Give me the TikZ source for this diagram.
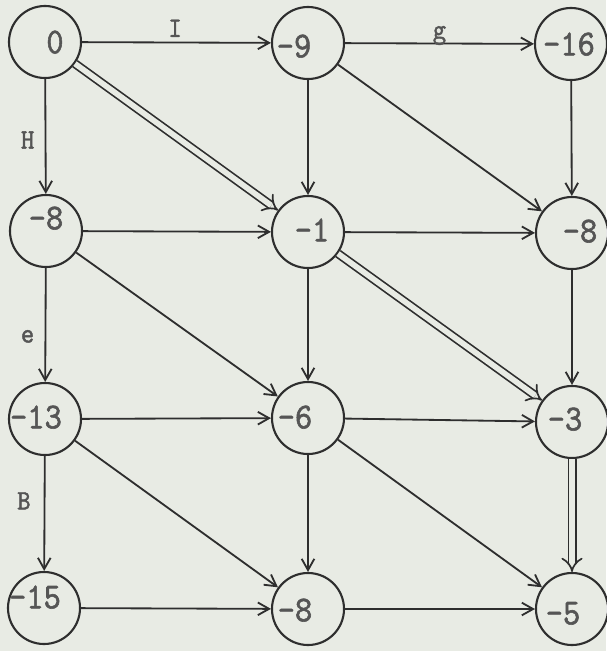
\documentclass[tikz,border=0pt]{standalone}
\usepackage{fontspec}
\usepackage{tikz}
\usetikzlibrary{arrows.meta}
\newfontfamily\typefont[FakeStretch=0.9, FakeBold=1.5]{lmmono10-regular.otf}
\definecolor{paper}{HTML}{E8EBE4}
\definecolor{ink}{HTML}{2E2E2E}
\definecolor{typegray}{HTML}{555555}
% -- one pixel of the sheet, and typed text set off the circle's centre
\newdimen\vpx \vpx=0.025cm
\newcommand\vt[3]{\makebox[0pt]{\kern\dimexpr2\vpx*#1\relax
  \raisebox{\dimexpr\vpx*#2-0.31em\relax}[0pt][0pt]{#3}}}

\begin{document}
\begin{tikzpicture}[
  x=0.025cm, y=-0.025cm,
  >={Straight Barb[length=8pt,width=9pt]},
  vertex/.style={draw=ink, circle, minimum size=1.8cm, inner sep=0pt, line width=1.5pt,
    font=\typefont\fontsize{26}{28}\selectfont, text=typegray},
  edge/.style={->, draw=ink, line width=1.3pt},
  best/.style={draw=ink, double=paper, double distance=4pt, line width=1.2pt, -{Implies[scale=2]}},
  lbl/.style={font=\typefont\fontsize{20}{22}\selectfont, text=typegray}
]
% -- paper background, fixes the page size
\fill[paper] (0,0) rectangle (606,651);
\useasboundingbox (0,0) rectangle (606,651);

% -- Grid of vertices, three columns, four rows.
\node[vertex] (v11) at (45,42)   {\vt{10}{0}{0}};
\node[vertex] (v12) at (308,43)  {\vt{-14}{-3}{-9}};
\node[vertex] (v13) at (571,44)  {\vt{-2}{0}{-16}};
\node[vertex] (v21) at (46,231)  {\vt{0}{13}{-8}};
\node[vertex] (v22) at (308,232) {\vt{4}{2}{-1}};
\node[vertex] (v23) at (572,233) {\vt{8}{2}{-8}};
\node[vertex] (v31) at (45,419)  {\vt{-9}{2}{-13}};
\node[vertex] (v32) at (308,418) {\vt{-13}{1}{-6}};
\node[vertex] (v33) at (572,422) {\vt{-7}{3}{-3}};
\node[vertex] (v41) at (44,608)  {\vt{-9}{11}{-15}};
\node[vertex] (v42) at (308,609) {\vt{-13}{-1}{-8}};
\node[vertex] (v43) at (572,609) {\vt{-9}{-4}{-5}};

% -- Horizontal arcs.
\draw[edge] (v11) -- node[lbl,above=0pt,xshift=-1pt]{I} (v12);
\draw[edge] (v12) -- node[lbl,above=-5pt]{g} (v13);
\draw[edge] (v21) -- (v22);
\draw[edge] (v22) -- (v23);
\draw[edge] (v31) -- (v32);
\draw[edge] (v32) -- (v33);
\draw[edge] (v41) -- (v42);
\draw[edge] (v42) -- (v43);

% -- Vertical arcs.
\draw[edge] (v11) -- node[lbl,left=4pt,pos=0.53]{H} (v21);
\draw[edge] (v21) -- node[lbl,left=4pt,pos=0.6]{e} (v31);
\draw[edge] (v31) -- node[lbl,left=6pt,pos=0.39]{B} (v41);
\draw[edge] (v12) -- (v22);
\draw[edge] (v22) -- (v32);
\draw[edge] (v32) -- (v42);
\draw[edge] (v13) -- (v23);
\draw[edge] (v23) -- (v33);

% -- Diagonal arcs.
\draw[edge] (v12) -- (v23);
\draw[edge] (v21) -- (v32);
\draw[edge] (v31) -- (v42);
\draw[edge] (v32) -- (v43);

% -- Longest path, double lines.
\draw[best] (v11) -- (v22);
\draw[best] (v22) -- (v33);
\draw[best] (v33) -- (v43);
\end{tikzpicture}
\end{document}
